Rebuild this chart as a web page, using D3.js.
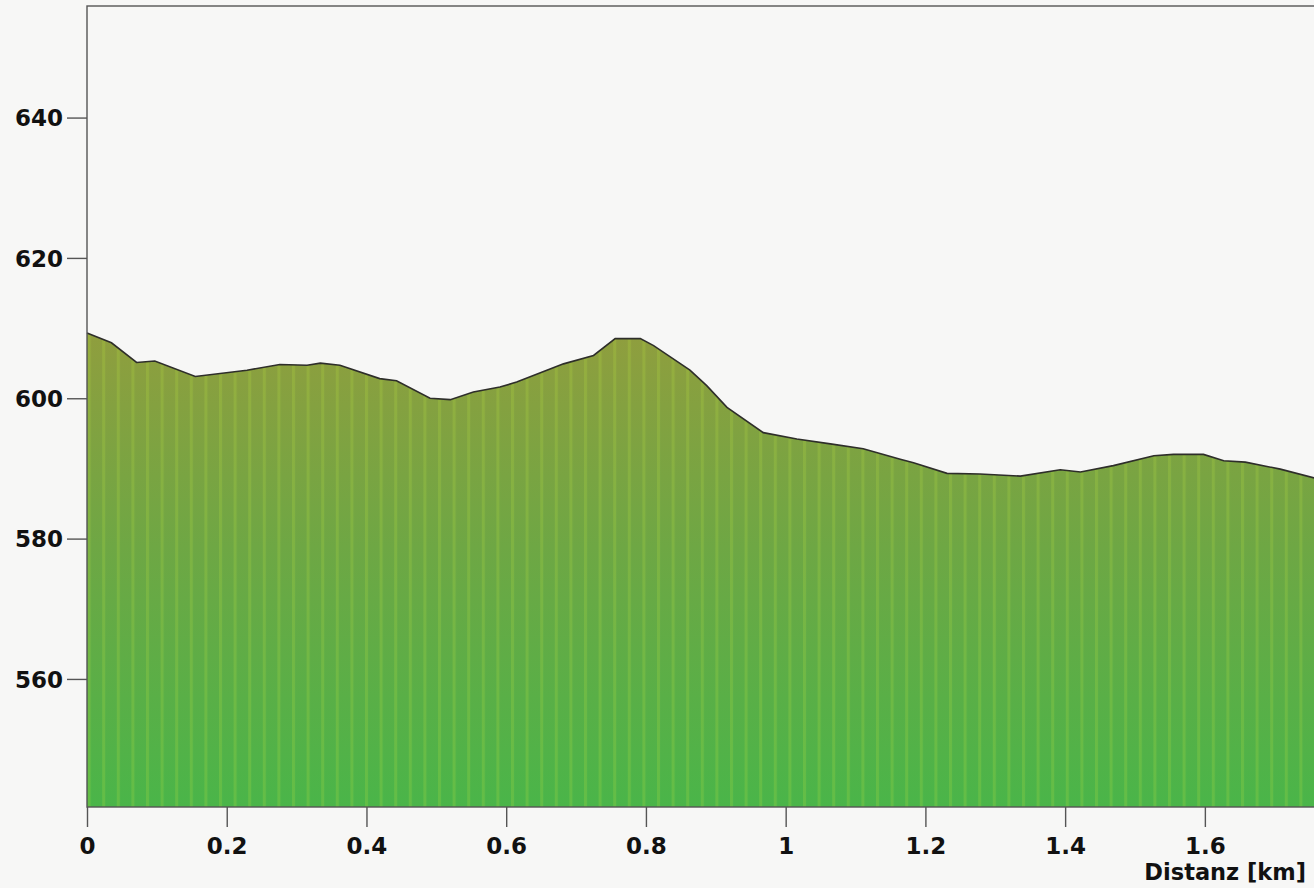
<!DOCTYPE html>
<html>
<head>
<meta charset="utf-8">
<script src="https://cdn.jsdelivr.net/npm/d3@7"></script>
<style>
  html, body { margin: 0; padding: 0; background: #f7f7f6; }
  svg { display: block; }
</style>
</head>
<body>
<div id="main"></div>
<script>
// distance along the track in km
const distKm = [0, 0.035, 0.071, 0.097, 0.155, 0.229, 0.276, 0.315, 0.334, 0.362,
  0.419, 0.443, 0.491, 0.520, 0.553, 0.591, 0.615, 0.682, 0.725, 0.756, 0.792,
  0.811, 0.863, 0.887, 0.916, 0.968, 1.016, 1.064, 1.111, 1.164, 1.183, 1.231,
  1.278, 1.336, 1.393, 1.422, 1.469, 1.527, 1.555, 1.598, 1.627, 1.658, 1.708, 1.758];
// elevation in m
const elevation = [609.3, 607.9, 605.1, 605.3, 603.1, 604.0, 604.8, 604.7, 605.0, 604.7,
  602.8, 602.5, 600.0, 599.8, 600.9, 601.6, 602.3, 604.9, 606.1, 608.5, 608.5,
  607.5, 604.0, 601.8, 598.7, 595.1, 594.2, 593.5, 592.8, 591.3, 590.8, 589.3,
  589.2, 588.9, 589.8, 589.5, 590.4, 591.8, 592.0, 592.0, 591.1, 590.9, 589.9, 588.6];
const xTicks = [0, 0.2, 0.4, 0.6, 0.8, 1, 1.2, 1.4, 1.6];
const yTicks = [560, 580, 600, 620, 640];

const points = distKm.map((d, i) => ({ d: d, h: elevation[i] }));

const W = 1314, H = 888;
const margin = { top: 6, right: -3, bottom: 81, left: 87 };

const svg = d3.select('#main')
  .append('svg')
  .attr('width', W)
  .attr('height', H);

const x = d3.scaleLinear()
  .domain([0, 1.7605])
  .range([margin.left, W - margin.right]);
const y = d3.scaleLinear()
  .domain([541.75, 655.9])
  .range([H - margin.bottom, margin.top]);

const defs = svg.append('defs');
const grad = defs.append('linearGradient')
  .attr('id', 'fillGrad')
  .attr('gradientUnits', 'userSpaceOnUse')
  .attr('x1', 0).attr('x2', 0)
  .attr('y1', y(609)).attr('y2', y(541.75));
grad.append('stop').attr('offset', '0%').attr('stop-color', '#8f9e3e');
grad.append('stop').attr('offset', '45%').attr('stop-color', '#6ea744');
grad.append('stop').attr('offset', '100%').attr('stop-color', '#4ab549');

// faint vertical stripes of the print
const pat = defs.append('pattern')
  .attr('id', 'stripes')
  .attr('patternUnits', 'userSpaceOnUse')
  .attr('width', 14.6).attr('height', 10);
pat.append('rect')
  .attr('x', 0).attr('y', 0)
  .attr('width', 3).attr('height', 10)
  .attr('fill', '#b8e040')
  .attr('opacity', 0.22);

const area = d3.area()
  .x(p => x(p.d))
  .y0(y(541.75))
  .y1(p => y(p.h));

svg.append('path')
  .datum(points)
  .attr('d', area)
  .attr('fill', 'url(#fillGrad)');
svg.append('path')
  .datum(points)
  .attr('d', area)
  .attr('fill', 'url(#stripes)');

// profile outline
svg.append('path')
  .datum(points)
  .attr('d', d3.line().x(p => x(p.d)).y(p => y(p.h)))
  .attr('fill', 'none')
  .attr('stroke', '#2e2e2a')
  .attr('stroke-width', 1.6);

// frame
svg.append('rect')
  .attr('x', margin.left)
  .attr('y', margin.top)
  .attr('width', W - margin.right - margin.left)
  .attr('height', H - margin.bottom - margin.top)
  .attr('fill', 'none')
  .attr('stroke', '#555')
  .attr('stroke-width', 1.4);

const font = '"DejaVu Sans", Verdana, sans-serif';

// x axis
const xAxis = svg.append('g')
  .attr('transform', `translate(0,${H - margin.bottom})`)
  .call(d3.axisBottom(x).tickValues(xTicks).tickSize(20).tickSizeOuter(0)
    .tickFormat(d3.format('~g')));
xAxis.select('.domain').remove();
xAxis.selectAll('.tick line').attr('stroke', '#555').attr('stroke-width', 1.4);
xAxis.selectAll('.tick text')
  .attr('dy', null)
  .attr('y', 47)
  .attr('fill', '#111')
  .style('font-family', font)
  .style('font-weight', 'bold')
  .style('font-size', '23px');

// y axis
const yAxis = svg.append('g')
  .attr('transform', `translate(${margin.left},0)`)
  .call(d3.axisLeft(y).tickValues(yTicks).tickSize(20).tickSizeOuter(0));
yAxis.select('.domain').remove();
yAxis.selectAll('.tick line').attr('stroke', '#555').attr('stroke-width', 1.4);
yAxis.selectAll('.tick text')
  .attr('x', -24)
  .attr('dy', '0.36em')
  .attr('fill', '#111')
  .style('font-family', font)
  .style('font-weight', 'bold')
  .style('font-size', '23px');

svg.append('text')
  .text('Distanz [km]')
  .attr('x', 1306)
  .attr('y', 880)
  .attr('text-anchor', 'end')
  .attr('fill', '#111')
  .style('font-family', font)
  .style('font-weight', 'bold')
  .style('font-size', '22.5px');
</script>
</body>
</html>
